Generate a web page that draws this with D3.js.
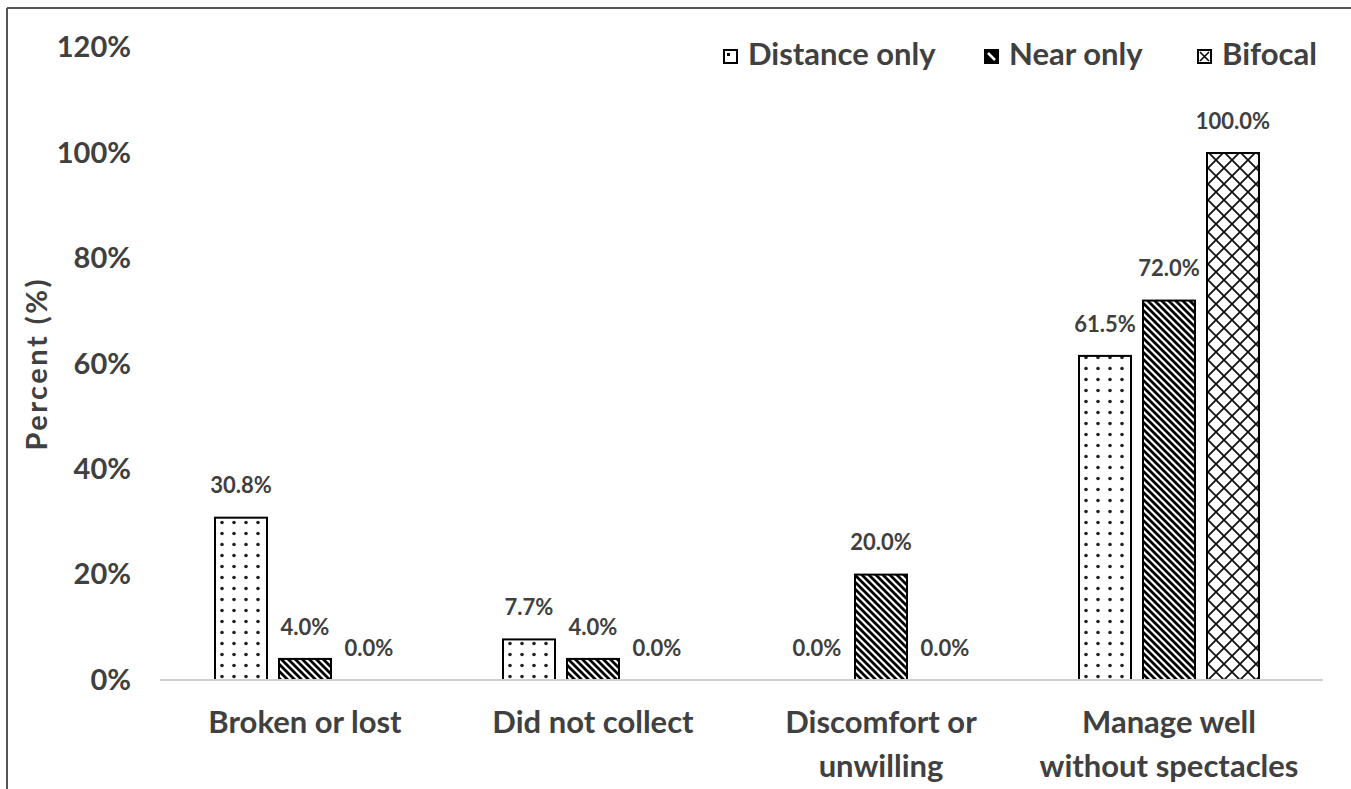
<!DOCTYPE html>
<html lang="en">
  <head>
    <meta charset="UTF-8" />
    <title>Reasons for not wearing spectacles</title>
    <style>
      body { margin: 0; background: #fff; }
      svg text { font-family: Lato, "Open Sans", sans-serif; font-weight: bold; fill: #404040; }
      .tick text { font-size: 29px; }
      .cat { font-size: 31px; }
      .val { font-size: 22px; }
      .legend text { font-size: 31px; }
      .bar { stroke: #000; stroke-width: 2px; }
    </style>
  </head>
  <body>
    <svg width="1351" height="789"></svg>
    <script src="https://cdn.jsdelivr.net/npm/d3@7"></script>
    <script>
      const categories = [
        ['Broken or lost'],
        ['Did not collect'],
        ['Discomfort or', 'unwilling'],
        ['Manage well', 'without spectacles'],
      ];
      const series = ['Distance only', 'Near only', 'Bifocal'];
      const distance = [30.8, 7.7, 0.0, 61.5];
      const near = [4.0, 4.0, 20.0, 72.0];
      const bifocal = [0.0, 0.0, 0.0, 100.0];
      const yTicks = [0, 20, 40, 60, 80, 100, 120];

      const values = [distance, near, bifocal];
      const patternIds = ['dots', 'stripes', 'cross'];

      var svg = d3.select('svg');

      // frame lines (top and left)
      svg.append('line').attr('x1', 7).attr('x2', 1351).attr('y1', 8).attr('y2', 8)
        .attr('stroke', '#555').attr('stroke-width', 2);
      svg.append('line').attr('x1', 7).attr('x2', 7).attr('y1', 8).attr('y2', 789)
        .attr('stroke', '#555').attr('stroke-width', 2);

      // patterns
      var defs = svg.append('defs');
      var p1 = defs.append('pattern').attr('id', 'dots').attr('patternUnits', 'userSpaceOnUse')
        .attr('width', 12).attr('height', 11);
      p1.append('rect').attr('width', 12).attr('height', 11).attr('fill', '#fff');
      p1.append('circle').attr('cx', 6).attr('cy', 5.5).attr('r', 1.8).attr('fill', '#222');

      var p2 = defs.append('pattern').attr('id', 'stripes').attr('patternUnits', 'userSpaceOnUse')
        .attr('width', 7).attr('height', 7);
      p2.append('rect').attr('width', 7).attr('height', 7).attr('fill', '#fff');
      p2.append('path').attr('d', 'M-2,-2L9,9M-2,5L2,9M5,-2L9,2')
        .attr('stroke', '#000').attr('stroke-width', 2.8);

      var p3 = defs.append('pattern').attr('id', 'cross').attr('patternUnits', 'userSpaceOnUse')
        .attr('width', 16).attr('height', 16);
      p3.append('rect').attr('width', 16).attr('height', 16).attr('fill', '#fff');
      p3.append('path').attr('d', 'M0,0L16,16M16,0L0,16')
        .attr('stroke', '#111').attr('stroke-width', 1.8);

      var x = d3.scaleBand().domain(d3.range(categories.length)).range([161, 1313]);
      var xs = d3.scaleBand().domain(series).range([0, x.bandwidth()])
        .paddingInner(0.1875).paddingOuter(0.84375);
      var y = d3.scaleLinear().domain([0, 120]).range([680, 47.6]);

      // y axis labels
      var yAxis = svg.append('g').attr('transform', 'translate(131,0)')
        .call(d3.axisLeft(y).tickValues(yTicks).tickSize(0).tickPadding(0).tickFormat((d) => d + '%'));
      yAxis.select('.domain').remove();

      svg.append('text')
        .attr('transform', 'translate(40,' + (y(60)) + ') rotate(-90)')
        .attr('text-anchor', 'middle').attr('dominant-baseline', 'middle')
        .style('font-size', '29px')
        .style('letter-spacing', '2.5px')
        .text('Percent (%)');

      // bars
      series.forEach(function (s, si) {
        svg.append('g').selectAll('rect')
          .data(values[si])
          .enter()
          .append('rect')
          .attr('class', 'bar')
          .attr('x', (d, i) => x(i) + xs(s))
          .attr('width', xs.bandwidth())
          .attr('y', (d) => y(d))
          .attr('height', (d) => y(0) - y(d))
          .attr('fill', 'url(#' + patternIds[si] + ')')
          .style('display', (d) => (d > 0 ? null : 'none'));

        svg.append('g').selectAll('text')
          .data(values[si])
          .enter()
          .append('text')
          .attr('class', 'val')
          .attr('x', (d, i) => x(i) + xs(s) + xs.bandwidth() / 2)
          .attr('y', (d) => y(d) - 30)
          .attr('text-anchor', 'middle')
          .attr('dominant-baseline', 'middle')
          .text((d) => d.toFixed(1) + '%');
      });

      // baseline
      svg.append('line').attr('x1', 160).attr('x2', 1323)
        .attr('y1', y(0)).attr('y2', y(0))
        .attr('stroke', '#d0d0d0').attr('stroke-width', 2);

      // category labels
      var cat = svg.append('g').selectAll('text')
        .data(categories)
        .enter()
        .append('text')
        .attr('class', 'cat')
        .attr('text-anchor', 'middle')
        .attr('x', (d, i) => x(i) + x.bandwidth() / 2)
        .attr('y', 733);
      cat.selectAll('tspan')
        .data((d) => d)
        .enter()
        .append('tspan')
        .attr('x', function () { return d3.select(this.parentNode).attr('x'); })
        .attr('dy', (d, i) => (i ? 44 : 0))
        .text((d) => d);

      // legend
      var legendX = [724, 985, 1198];
      var legend = svg.append('g').attr('class', 'legend');
      series.forEach(function (s, si) {
        var g = legend.append('g').attr('transform', 'translate(' + legendX[si] + ',50)');
        g.append('rect').attr('width', 13).attr('height', 13)
          .attr('fill', si === 1 ? '#000' : '#fff')
          .attr('stroke', '#000').attr('stroke-width', 2);
        if (si === 0) {
          g.append('rect').attr('x', 3).attr('y', 3).attr('width', 3).attr('height', 3).attr('fill', '#000');
        } else if (si === 1) {
          g.append('path').attr('d', 'M3,3L10,10').attr('stroke', '#fff').attr('stroke-width', 2.5);
        } else {
          g.append('path').attr('d', 'M2,2L11,11M11,2L2,11').attr('stroke', '#000').attr('stroke-width', 1.5);
        }
        g.append('text').attr('x', 24).attr('y', 7)
          .attr('dominant-baseline', 'middle')
          .text(s);
      });
    </script>
  </body>
</html>
